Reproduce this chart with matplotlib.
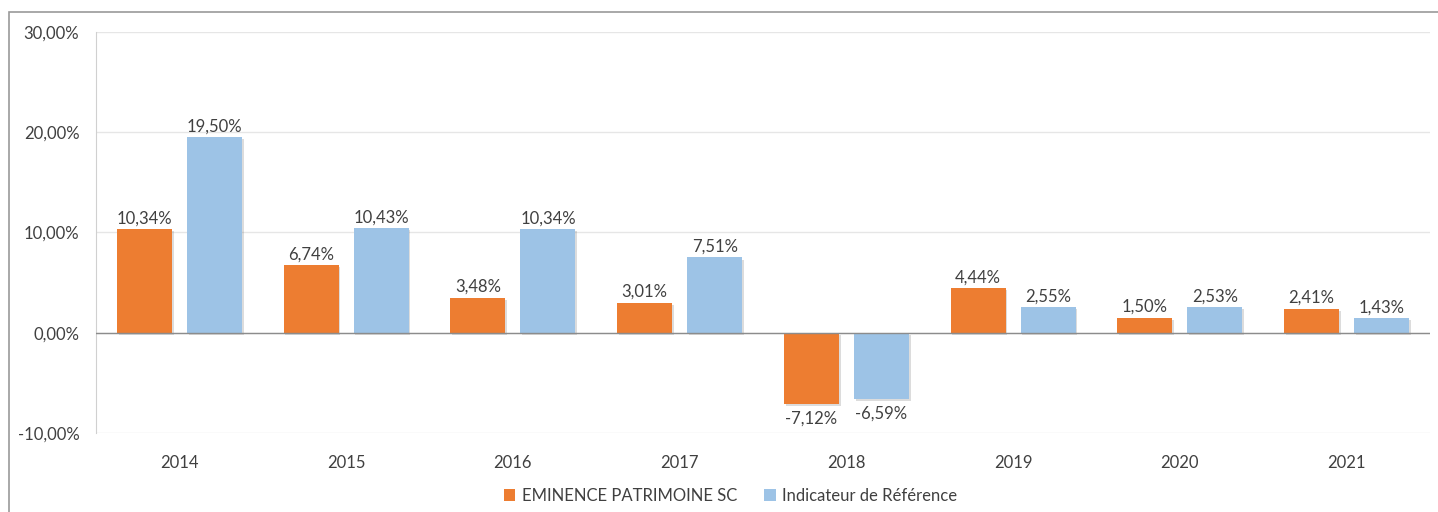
import numpy as np
import matplotlib
matplotlib.use('Agg')
import matplotlib.pyplot as plt
import matplotlib.patheffects as pe
from matplotlib.patches import Rectangle

years = ['2014', '2015', '2016', '2017', '2018', '2019', '2020', '2021']
eminence = [10.34, 6.74, 3.48, 3.01, -7.12, 4.44, 1.50, 2.41]
reference = [19.50, 10.43, 10.34, 7.51, -6.59, 2.55, 2.53, 1.43]
yticks = [-10, 0, 10, 20, 30]

plt.rcParams['font.family'] = ['Lato', 'DejaVu Sans']

fig = plt.figure(figsize=(14.38, 5.12), dpi=100)
ax = fig.add_axes([0.0668, 0.1543, 0.9276, 0.7832])

# grey frame round the chart, as in the Excel export
fig.patches.append(Rectangle((0.0063, -0.1), 1.2, 1.0766, transform=fig.transFigure,
                             fill=False, edgecolor='#9a9a9a', linewidth=1.2))

x = np.arange(len(years))
w = 0.33
off = 0.21
shadow = [pe.SimplePatchShadow(offset=(1.2, -1.5), alpha=0.22, shadow_rgbFace='#606060'), pe.Normal()]
b1 = ax.bar(x - off, eminence, w, color='#ED7D31', label='EMINENCE PATRIMOINE SC', zorder=3)
b2 = ax.bar(x + off, reference, w, color='#9DC3E6', label='Indicateur de Référence', zorder=3)
for b in list(b1) + list(b2):
    b.set_path_effects(shadow)

def fmt(v):
    return f'{v:.2f}%'.replace('.', ',')

for bars, vals in [(b1, eminence), (b2, reference)]:
    for b, v in zip(bars, vals):
        cx = b.get_x() + b.get_width() / 2
        if v >= 0:
            ax.annotate(fmt(v), (cx, v), xytext=(0, 2), textcoords='offset points',
                        ha='center', va='bottom', fontsize=12, color='#404040')
        else:
            ax.annotate(fmt(v), (cx, v), xytext=(0, -5), textcoords='offset points',
                        ha='center', va='top', fontsize=12, color='#404040')

ax.set_xlim(-0.5, len(years) - 0.5)
ax.set_ylim(-10, 30)
ax.set_yticks(yticks)
ax.set_yticklabels([f'{t:.2f}%'.replace('.', ',') for t in yticks], fontsize=12, color='#404040')
ax.set_xticks(x)
ax.set_xticklabels(years, fontsize=12, color='#404040')
ax.tick_params(axis='both', length=0)
ax.tick_params(axis='x', pad=16)
ax.tick_params(axis='y', pad=12)

ax.grid(axis='y', color='#e6e6e6', linewidth=1, zorder=0)
ax.axhline(0, color='#8c8c8c', linewidth=1, zorder=4)
for s in ['top', 'right', 'bottom']:
    ax.spines[s].set_visible(False)
ax.spines['left'].set_color('#d0d0d0')

leg = fig.legend(loc='lower center', bbox_to_anchor=(0.508, -0.013), ncol=2, frameon=False,
                 fontsize=12, handlelength=0.7, handleheight=0.7, columnspacing=1.6,
                 handletextpad=0.4)
for h in leg.legend_handles:
    h.set_path_effects([])
for t in leg.get_texts():
    t.set_color('#404040')

fig.savefig('out.png', dpi=100)
